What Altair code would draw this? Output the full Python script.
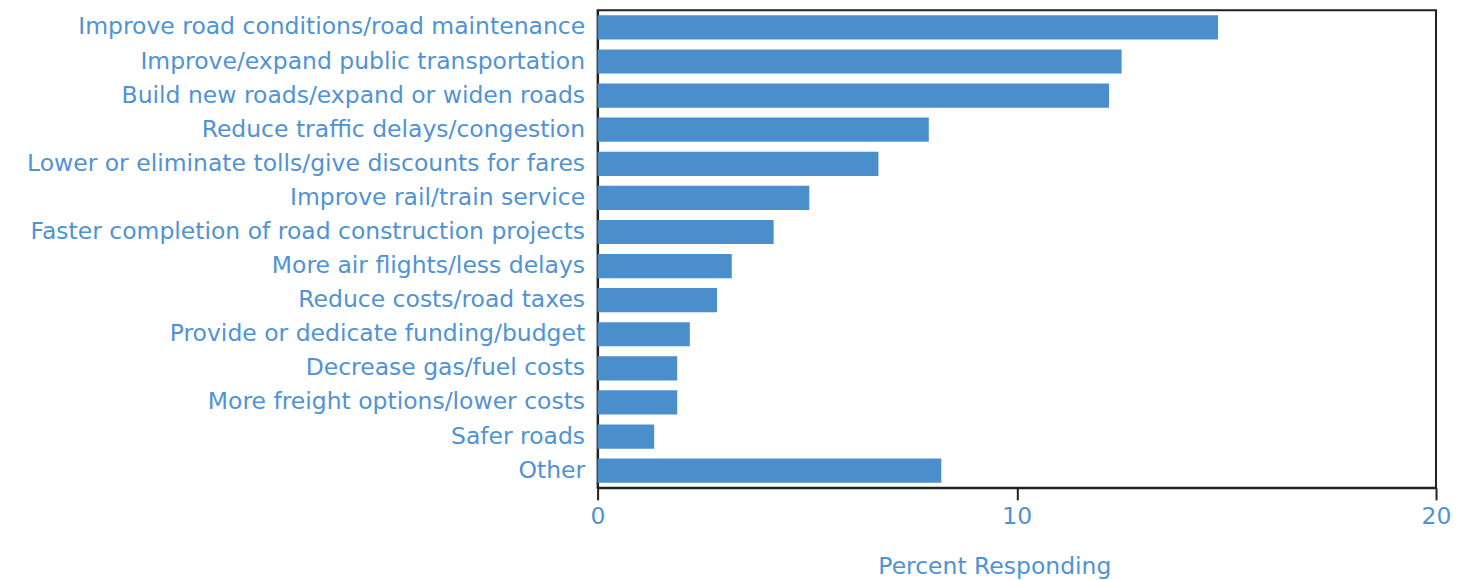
import altair as alt
import pandas as pd

categories = [
    "Improve road conditions/road maintenance",
    "Improve/expand public transportation",
    "Build new roads/expand or widen roads",
    "Reduce traffic delays/congestion",
    "Lower or eliminate tolls/give discounts for fares",
    "Improve rail/train service",
    "Faster completion of road construction projects",
    "More air flights/less delays",
    "Reduce costs/road taxes",
    "Provide or dedicate funding/budget",
    "Decrease gas/fuel costs",
    "More freight options/lower costs",
    "Safer roads",
    "Other",
]
values = [14.8, 12.5, 12.2, 7.9, 6.7, 5.05, 4.2, 3.2, 2.85, 2.2, 1.9, 1.9, 1.35, 8.2]
x_ticks = [0, 10, 20]

df = pd.DataFrame({"category": categories, "percent": values})

BLUE = "#4a8fcc"
TEXT = "#5093d4"
DARK = "#222222"
FONT = "DejaVu Sans"
FS = 23.5

chart = (
    alt.Chart(df)
    .mark_bar(color=BLUE)
    .encode(
        x=alt.X(
            "percent:Q",
            scale=alt.Scale(domain=[0, 20], nice=False, zero=True),
            axis=alt.Axis(
                values=x_ticks,
                title="Percent Responding",
                grid=False,
                tickSize=12,
                tickWidth=2,
                tickColor=DARK,
                domainColor=DARK,
                domainWidth=2,
                labelFontSize=FS,
                labelColor=TEXT,
                labelFont=FONT,
                labelPadding=5,
                labelFlush=False,
                labelOverlap=False,
                titleFontSize=FS,
                titleFontWeight="normal",
                titleColor=TEXT,
                titleFont=FONT,
                titlePadding=26,
                titleX=397,
            ),
        ),
        y=alt.Y(
            "category:N",
            sort=categories,
            scale=alt.Scale(paddingInner=0.29, paddingOuter=0.15),
            axis=alt.Axis(
                title=None,
                ticks=False,
                domainColor=DARK,
                domainWidth=2,
                labelFontSize=FS,
                labelColor=TEXT,
                labelFont=FONT,
                labelPadding=13,
                labelLimit=0,
            ),
        ),
    )
    .properties(
        width=839,
        height=478,
        padding={"left": 590, "top": 2, "right": 22, "bottom": 92},
        autosize=alt.AutoSizeParams(type="none"),
    )
    .configure_view(stroke=DARK, strokeWidth=2)
)

chart.save("out.html", embed_options={"renderer": "svg", "actions": False})
